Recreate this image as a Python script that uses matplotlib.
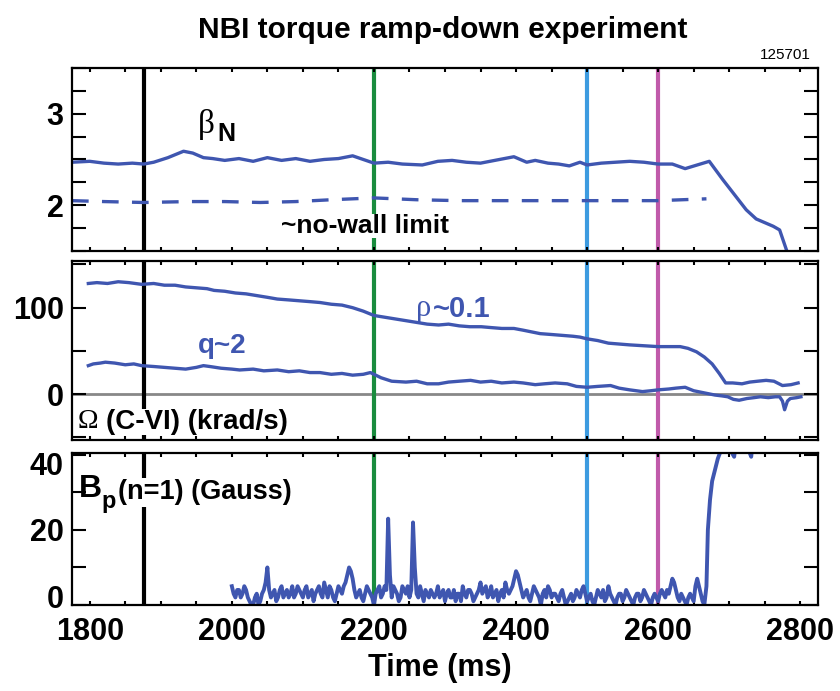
import matplotlib
matplotlib.use('Agg')
import matplotlib.pyplot as plt
import numpy as np
from matplotlib.ticker import MultipleLocator
from matplotlib.transforms import ScaledTranslation

plt.rcParams['font.family'] = ['Liberation Sans Narrow', 'Liberation Sans', 'DejaVu Sans']
plt.rcParams['font.weight'] = 'bold'

# beta_N (solid) and ~no-wall limit (dashed)
t_beta = [1775, 1800, 1820, 1840, 1860, 1876, 1890, 1910, 1932, 1945, 1960, 1973, 1990,
          2010, 2030, 2050, 2070, 2090, 2110, 2130, 2150, 2170, 2185, 2200, 2220, 2240,
          2268, 2290, 2310, 2330, 2350, 2370, 2397, 2415, 2427, 2445, 2460, 2475, 2490,
          2500, 2520, 2540, 2560, 2580, 2600, 2620, 2638, 2655, 2672, 2691, 2710, 2724,
          2738, 2762, 2771, 2782]
beta_n = [2.47, 2.48, 2.46, 2.45, 2.46, 2.45, 2.47, 2.52, 2.59, 2.57, 2.52, 2.51, 2.49,
          2.51, 2.48, 2.52, 2.49, 2.51, 2.48, 2.50, 2.51, 2.54, 2.50, 2.46, 2.47, 2.45,
          2.44, 2.48, 2.49, 2.47, 2.46, 2.49, 2.53, 2.47, 2.49, 2.46, 2.45, 2.43, 2.47,
          2.44, 2.46, 2.47, 2.48, 2.47, 2.45, 2.45, 2.40, 2.44, 2.48, 2.28, 2.09, 1.95,
          1.85, 1.77, 1.73, 1.48]
t_wall = [1775, 1820, 1876, 1940, 1990, 2040, 2090, 2140, 2200, 2260, 2320, 2400, 2500,
          2600, 2668]
nowall = [2.05, 2.04, 2.03, 2.04, 2.04, 2.03, 2.04, 2.06, 2.08, 2.06, 2.05, 2.05, 2.05,
          2.05, 2.07]

# toroidal rotation (krad/s), rho~0.1 and q~2
t_rot = [1798, 1810, 1825, 1840, 1855, 1873, 1890, 1905, 1920, 1935, 1950, 1965, 1975,
         1990, 2005, 2020, 2035, 2050, 2064, 2080, 2095, 2110, 2124, 2140, 2155, 2170,
         2185, 2200, 2215, 2230, 2245, 2260, 2275, 2291, 2305, 2320, 2335, 2351, 2365,
         2380, 2397, 2410, 2422, 2434, 2450, 2465, 2480, 2490, 2500, 2515, 2530, 2545,
         2560, 2580, 2600, 2615, 2631, 2642, 2654, 2665, 2676, 2686, 2695, 2705, 2718,
         2729, 2740, 2752, 2763, 2775, 2787, 2797]
rot_core = [128, 129, 128, 130, 129, 127, 128, 126, 126, 124, 123, 122, 120,
            119, 117, 116, 114, 112, 110, 109, 108, 107, 106, 104, 103, 100,
            96, 91, 89, 87, 85, 83, 81, 80, 81, 79, 78, 78, 77,
            76, 76, 74, 72, 70, 69, 68, 67, 66, 64, 62, 59, 58,
            57, 56, 55, 55, 55, 53, 49, 43, 35, 24, 13, 13, 12,
            14, 15, 16, 15, 10, 11, 13]
t_q2 = [1798, 1805, 1815, 1822, 1835, 1850, 1862, 1873, 1890, 1905, 1920, 1935, 1950,
        1960, 1969, 1985, 2000, 2011, 2030, 2045, 2064, 2080, 2095, 2110, 2124, 2140,
        2155, 2170, 2185, 2195, 2200, 2210, 2225, 2245, 2260, 2275, 2291, 2305, 2320,
        2336, 2350, 2365, 2380, 2397, 2410, 2427, 2440, 2455, 2472, 2485, 2500, 2515,
        2533, 2545, 2560, 2578, 2590, 2600, 2615, 2625, 2638, 2650, 2668, 2680, 2690,
        2698, 2706, 2714, 2725, 2735, 2744, 2755, 2765, 2771, 2775, 2778, 2782, 2786,
        2795, 2801]
rot_q2 = [33, 35, 36, 37, 36, 34, 35, 33, 32, 31, 30, 29, 31,
          33, 32, 30, 29, 28, 29, 27, 28, 26, 27, 25, 25, 23,
          24, 22, 23, 25, 23, 19, 15, 14, 15, 12, 12, 14, 15,
          16, 14, 15, 13, 14, 13, 11, 12, 13, 12, 9, 8, 9,
          10, 7, 5, 3, 4, 5, 6, 7, 8, 4, 1, -1, -2,
          -3, -6, -7, -5, -4, -3, -4, -3, -3, -8, -18, -8, -5,
          -4, -3]

# n=1 Bp (Gauss): samples at 2000, 2005, ... 2665 ms and the in-between samples
bp_even = [5, 2, 4, 3, 4, 1, 0, 3, 1, 4, 10, 2, 4, 2, 5, 3, 2, 5, 3, 4,
           2, 5, 3, 1, 4, 3, 6, 2, 4, 1, 5, 3, 6, 10, 7, 2, 4, 1, 5, 3,
           0, 4, 2, 5, 23, 2, 4, 1, 5, 3, 2, 22, 3, 5, 1, 3, 4, 2, 5, 3,
           1, 4, 2, 1, 3, 5, 2, 4, 1, 3, 6, 4, 2, 5, 3, 1, 4, 6, 3, 5,
           9, 6, 2, 4, 1, 5, 3, 0, 4, 5, 2, 3, 1, 4, 0, 2, 1, 4, 2, 5,
           1, 3, 0, 4, 2, 1, 5, 2, 0, 3, 1, 4, 2, 0, 3, 1, 4, 2, 0, 3,
           1, 4, 2, 3, 7, 4, 1, 2, 0, 3, 1, 7, 3, 0]
bp_odd = [3, 4, 2, 5, 2, 0, 2, 0, 3, 6, 4, 3, 1, 4, 2, 4, 3, 2, 5, 3,
          4, 2, 4, 3, 5, 2, 4, 5, 2, 3, 4, 5, 8, 9, 4, 3, 2, 3, 4, 2,
          3, 5, 3, 4, 8, 5, 3, 2, 4, 5, 4, 10, 2, 3, 4, 2, 3, 3, 2, 4,
          3, 2, 4, 3, 1, 3, 4, 3, 2, 4, 3, 5, 3, 2, 4, 3, 2, 4, 4, 7,
          8, 4, 3, 2, 3, 4, 2, 3, 2, 4, 3, 2, 3, 2, 1, 3, 2, 3, 4, 3,
          2, 1, 2, 3, 4, 2, 3, 1, 2, 3, 2, 3, 1, 2, 3, 2, 3, 1, 2, 2,
          3, 3, 4, 5, 6, 2, 3, 1, 2, 2, 5, 5, 1]
t_rise = [2668, 2670, 2673, 2676, 2680, 2684, 2688, 2692, 2700, 2704, 2707, 2710, 2720,
          2728, 2731, 2734, 2745]
bp_rise = [5, 20, 28, 33, 36, 39, 41, 45, 48, 40.5, 39.5, 44, 50, 41, 39.5, 45, 50]

t_marks = [1876, 2200, 2500, 2600]
mark_colors = ['black', '#1a8c3e', '#3d9be0', '#c05aaa']

blue = '#3f56b0'

n = len(bp_even) + len(bp_odd)
bp_fine = np.empty(n)
bp_fine[0::2] = bp_even
bp_fine[1::2] = bp_odd
t_bp = np.concatenate([2000 + 2.5 * np.arange(n), t_rise])
bp_n1 = np.concatenate([bp_fine, bp_rise])

fig = plt.figure(figsize=(8.4, 6.91), dpi=100)
L, W = 0.0857, 0.8881
ax1 = fig.add_axes([L, 0.6368, W, 0.2648])
ax2 = fig.add_axes([L, 0.3632, W, 0.2591])
ax3 = fig.add_axes([L, 0.1245, W, 0.2199])

ax1.plot(t_beta, beta_n, color=blue, lw=2.4, zorder=2)
ax1.plot(t_wall, nowall, color=blue, lw=2.4, dashes=(5, 4), zorder=2)
ax1.set_ylim(1.5, 3.5)
ax1.yaxis.set_major_locator(MultipleLocator(1))
ax1.yaxis.set_minor_locator(MultipleLocator(0.25))

ax2.axhline(0, color='#888888', lw=2, zorder=1)
ax2.plot(t_rot, rot_core, color=blue, lw=2.4, zorder=2)
ax2.plot(t_q2, rot_q2, color=blue, lw=2.4, zorder=2)
ax2.set_ylim(-53, 154)
ax2.yaxis.set_major_locator(MultipleLocator(100))
ax2.yaxis.set_minor_locator(MultipleLocator(50))

ax3.plot(t_bp, bp_n1, color=blue, lw=2.8, zorder=2)
ax3.set_ylim(0, 40.5)
ax3.set_yticks([0, 20, 40])
ax3.yaxis.set_minor_locator(MultipleLocator(10))

for ax in (ax1, ax2, ax3):
    for t, c in zip(t_marks, mark_colors):
        ax.axvline(t, color=c, lw=3, zorder=1.5)
    ax.set_xlim(1775, 2825)
    ax.xaxis.set_major_locator(MultipleLocator(200))
    ax.xaxis.set_minor_locator(MultipleLocator(50))
    ax.tick_params(axis='x', which='both', direction='in', top=True, bottom=True,
                   length=3, width=1.5, labelsize=22, pad=9)
    ax.tick_params(axis='y', which='both', direction='in', left=True, right=True,
                   length=10, width=1.5, labelsize=22, pad=6)
    for s in ax.spines.values():
        s.set_linewidth(1.6)
    if ax is not ax3:
        ax.tick_params(axis='x', labelbottom=False)

# the 0 and 40 labels of the bottom panel sit inside the frame
for lab, dy in zip(ax3.get_yticklabels(), [8, 0, -9]):
    lab.set_transform(lab.get_transform() + ScaledTranslation(0, dy / 100, fig.dpi_scale_trans))

# labels inside panels
ax1.text(1976, 2.88, 'β', family=['Liberation Serif', 'DejaVu Serif'], fontweight='normal',
         fontsize=24, ha='right', va='center')
ax1.text(1980, 2.78, 'N', fontsize=18, ha='left', va='center')
ax1.text(2188, 1.77, '~no-wall limit', fontsize=19, ha='center', va='center',
         bbox=dict(facecolor='white', edgecolor='none', pad=0), zorder=4)

ax2.text(2281, 99, 'ρ', family=['Liberation Serif', 'DejaVu Serif'], fontweight='normal',
         fontsize=22, color=blue, ha='right', va='center')
ax2.text(2283, 99, '~0.1', fontsize=21, color=blue, ha='left', va='center')
ax2.text(1986, 56, 'q~2', fontsize=20, color=blue, ha='center', va='center')
ax2.text(1812, -32, 'Ω', family=['Liberation Serif', 'DejaVu Serif'], fontweight='normal',
         fontsize=20, ha='right', va='center')
ax2.text(1823, -32, '(C-VI) (krad/s)', fontsize=20, ha='left', va='center',
         bbox=dict(facecolor='white', edgecolor='none', pad=0), zorder=4)

ax3.text(1785, 31, 'B', fontsize=23, ha='left', va='center')
ax3.text(1816, 27.5, 'p', fontsize=17, ha='left', va='center')
ax3.text(1840, 30, '(n=1) (Gauss)', fontsize=19.5, ha='left', va='center',
         bbox=dict(facecolor='white', edgecolor='none', pad=1), zorder=4)

fig.text(0.527, 0.957, 'NBI torque ramp-down experiment', ha='center', va='center',
         fontsize=21.5)
fig.text(0.9655, 0.920, '125701', ha='right', va='center', fontsize=11, fontweight='normal')
fig.text(0.524, 0.033, 'Time (ms)', ha='center', va='center', fontsize=22)

fig.savefig('out.png', dpi=100)
